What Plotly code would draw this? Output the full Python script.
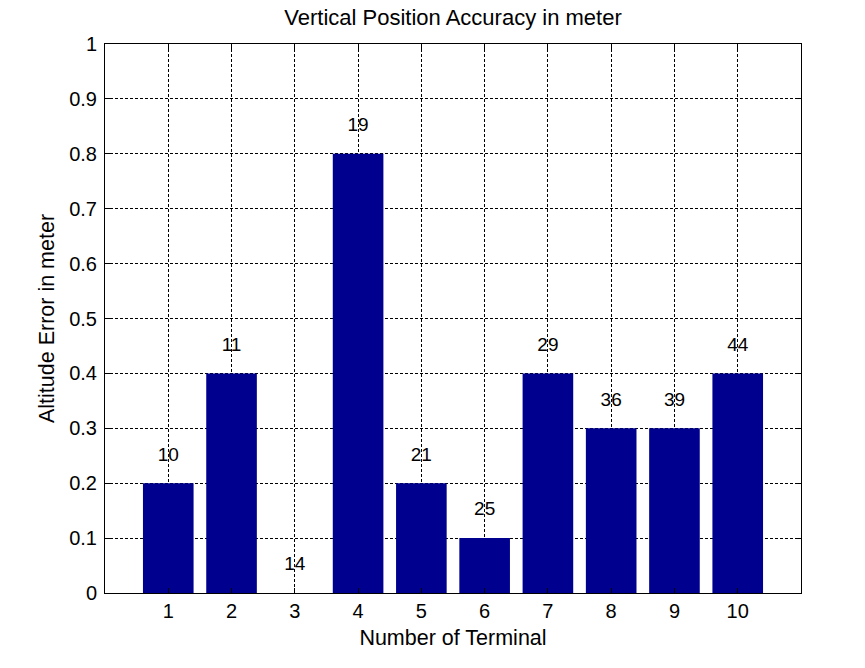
import plotly.graph_objects as go

terminals = [1, 2, 3, 4, 5, 6, 7, 8, 9, 10]
errors = [0.2, 0.4, 0.0, 0.8, 0.2, 0.1, 0.4, 0.3, 0.3, 0.4]
labels = ["10", "11", "14", "19", "21", "25", "29", "36", "39", "44"]
label_offset = 0.05

FONT = "Liberation Sans, Arial"

fig = go.Figure()
fig.add_trace(go.Bar(x=terminals, y=errors, width=0.8,
                     marker=dict(color="#00008F", line=dict(width=0)),
                     showlegend=False, hoverinfo="skip"))
fig.add_trace(go.Scatter(x=terminals, y=[e + label_offset for e in errors],
                         mode="text", text=labels,
                         textfont=dict(family=FONT, size=19, color="black"),
                         textposition="middle center", showlegend=False, hoverinfo="skip"))

axis_common = dict(showline=True, linecolor="black", linewidth=1, mirror="ticks",
                   ticks="inside", ticklen=5, tickcolor="black",
                   showgrid=True, gridcolor="black", gridwidth=1, griddash="3px,2px",
                   zeroline=False,
                   tickfont=dict(family=FONT, size=20, color="black"),
                   title_font=dict(family=FONT, size=21.5, color="black"))

fig.update_layout(
    width=865, height=668,
    margin=dict(l=105, r=64, t=44, b=75),
    paper_bgcolor="white", plot_bgcolor="white",
    title=dict(text="Vertical Position Accuracy in meter", x=(105 + 801) / 2 / 865, xanchor="center",
               y=1 - 17 / 668, yanchor="middle",
               font=dict(family=FONT, size=22, color="black")),
    xaxis=dict(range=[0, 11], tickvals=terminals, ticktext=[str(t) for t in terminals],
               title=dict(text="Number of Terminal", standoff=8), **axis_common),
    yaxis=dict(range=[0, 1], tickvals=[i / 10 for i in range(11)],
               ticktext=["0", "0.1", "0.2", "0.3", "0.4", "0.5", "0.6", "0.7", "0.8", "0.9", "1"],
               ticklabelstandoff=3,
               title=dict(text="Altitude Error in meter", standoff=8), **axis_common),
    bargap=0.2,
)

fig.write_html("out.html")
